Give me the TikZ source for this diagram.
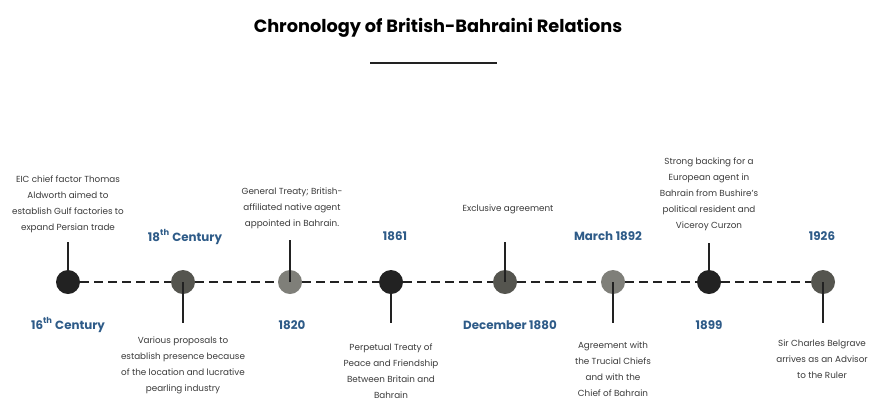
\documentclass[tikz,border=0pt]{standalone}
\usepackage{fontspec}
\setmainfont{Poppins}
\usetikzlibrary{positioning}
\definecolor{dateblue}{HTML}{2E5B88}
\definecolor{dotdark}{HTML}{222222}
\definecolor{dotmid}{HTML}{55554F}
\definecolor{dotlight}{HTML}{7F7F79}
\definecolor{notegray}{HTML}{3A3A3A}

\begin{document}
\begin{tikzpicture}[x=0.75pt,y=-0.75pt,
  dot/.style={circle,inner sep=0pt,minimum size=18pt},
  date/.style={text=dateblue,font=\bfseries\fontsize{8.9}{10}\selectfont},
  note/.style={align=center,text=notegray,font=\fontsize{6.6}{12}\selectfont},
  stem/.style={line width=2.2pt,draw=dotdark},
  link/.style={dash pattern=on 6.5pt off 4pt,line width=1.8pt,draw=dotdark}]
  \useasboundingbox (0,0) rectangle (877,401);

  \node[font=\bfseries\fontsize{13.3}{15}\selectfont] (title) at (438,28) {Chronology of British-Bahraini Relations};
  \coordinate (ulA) at (370,63);
  \coordinate (ulB) at (497,63);
  \draw[line width=2pt,draw=dotdark] (ulA) -- (ulB);

  % the dots on the line
  \node[dot] (d1) at (68,282) {};
  \node[dot] (d2) at (183,282) {};
  \node[dot] (d3) at (290,282) {};
  \node[dot] (d4) at (391,282) {};
  \node[dot] (d5) at (505,282) {};
  \node[dot] (d6) at (613,282) {};
  \node[dot] (d7) at (709,282) {};
  \node[dot] (d8) at (823,282) {};
  \draw[link] (d1) -- (d2);
  \draw[link] (d2) -- (d3);
  \draw[link] (d3) -- (d4);
  \draw[link] (d4) -- (d5);
  \draw[link] (d5) -- (d6);
  \draw[link] (d6) -- (d7);
  \draw[link] (d7) -- (d8);
  \fill[dotdark] (d1) circle (9pt);
  \fill[dotmid] (d2) circle (9pt);
  \fill[dotlight] (d3) circle (9pt);
  \fill[dotdark] (d4) circle (9pt);
  \fill[dotmid] (d5) circle (9pt);
  \fill[dotlight] (d6) circle (9pt);
  \fill[dotdark] (d7) circle (9pt);
  \fill[dotmid] (d8) circle (9pt);

  % stems
  \coordinate (s1) at (68,242);
  \coordinate (s2) at (183,323);
  \coordinate (s3) at (290,240);
  \coordinate (s4) at (391,323);
  \coordinate (s5) at (505,242);
  \coordinate (s6) at (613,323);
  \coordinate (s7) at (709,243);
  \coordinate (s8) at (823,323);
  \draw[stem] (d1.center) -- (s1);
  \draw[stem] (d2.center) -- (s2);
  \draw[stem] (d3.center) -- (s3);
  \draw[stem] (d4.center) -- (s4);
  \draw[stem] (d5.center) -- (s5);
  \draw[stem] (d6.center) -- (s6);
  \draw[stem] (d7.center) -- (s7);
  \draw[stem] (d8.center) -- (s8);

  % dates
  \node[date] (t1) at (68,325) {16\textsuperscript{th} Century};
  \node[date] (t2) at (185,237) {18\textsuperscript{th} Century};
  \node[date] (t3) at (292,325) {1820};
  \node[date] (t4) at (395,236) {1861};
  \node[date] (t5) at (510,325) {December 1880};
  \node[date] (t6) at (608,236) {March 1892};
  \node[date] (t7) at (709,325) {1899};
  \node[date] (t8) at (822,236) {1926};

  % events
  \node[note] (n1) at (68,204) {EIC chief factor Thomas\\Aldworth aimed to\\establish Gulf factories to\\expand Persian trade};
  \node[note] (n2) at (183,365) {Various proposals to\\establish presence because\\of the location and lucrative\\pearling industry};
  \node[note] (n3) at (292,208) {General Treaty; British-\\affiliated native agent\\appointed in Bahrain.};
  \node[note] (n4) at (391,371) {Perpetual Treaty of\\Peace and Friendship\\Between Britain and\\Bahrain};
  \node[note] (n5) at (508,209) {Exclusive agreement};
  \node[note] (n6) at (613,369) {Agreement with\\the Trucial Chiefs\\and with the\\Chief of Bahrain};
  \node[note] (n7) at (709,194) {Strong backing for a\\European agent in\\Bahrain from Bushire’s\\political resident and\\Viceroy Curzon};
  \node[note] (n8) at (822,359) {Sir Charles Belgrave\\arrives as an Advisor\\to the Ruler};
\end{tikzpicture}
\end{document}
